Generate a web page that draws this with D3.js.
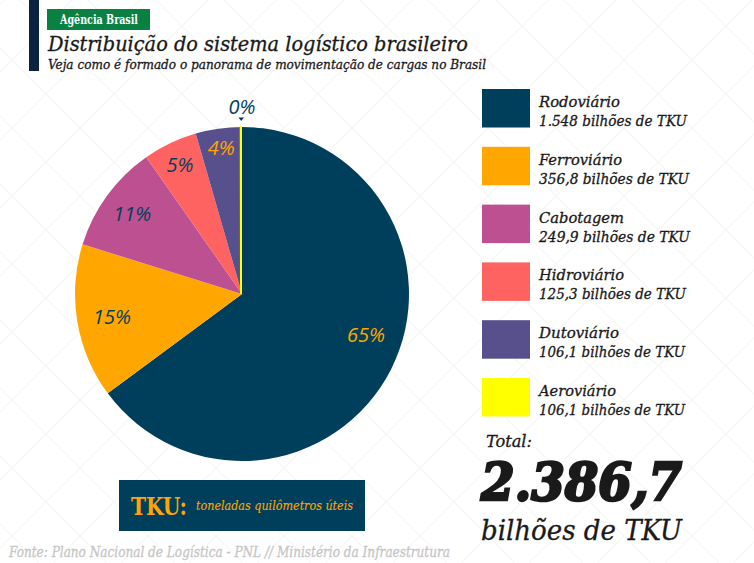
<!DOCTYPE html>
<html>
<head>
<meta charset="utf-8">
<script src="https://d3js.org/d3.v7.min.js"></script>
<style>
  html, body { margin: 0; padding: 0; background: #fff; }
  svg { display: block; }
  text { font-family: "DejaVu Serif", serif; font-stretch: condensed; }
  .it { font-style: italic; }
  .pct { font-family: "Open Sans", sans-serif; font-stretch: normal; }
</style>
</head>
<body>
<svg id="chart" width="754" height="563"></svg>
<script>
// data
const categories = ["Rodoviário", "Ferroviário", "Cabotagem", "Hidroviário", "Dutoviário", "Aeroviário"];
const sliceValues = [1548, 356.8, 249.9, 125.3, 106.1, 0.6]; // aeroviário: what is left of the 2.386,7 total
const percentLabels = ["65%", "15%", "11%", "5%", "4%", "0%"];
const valueLabels = ["1.548 bilhões de TKU", "356,8 bilhões de TKU", "249,9 bilhões de TKU",
  "125,3 bilhões de TKU", "106,1 bilhões de TKU", "106,1 bilhões de TKU"];
const sliceColors = ["#003f5c", "#ffa600", "#bc5090", "#ff6361", "#58508d", "#ffff00"];

const width = 754, height = 563;
const svg = d3.select("#chart");

// faint lattice in the background
const defs = svg.append("defs");
const pat = defs.append("pattern").attr("id", "lattice")
  .attr("width", 68).attr("height", 68).attr("patternUnits", "userSpaceOnUse")
  .attr("x", 12).attr("y", -8);
pat.append("rect").attr("width", 68).attr("height", 68).attr("fill", "#fff");
pat.append("path").attr("d", "M0,0L68,68M68,0L0,68").attr("stroke", "#f8f8f8").attr("stroke-width", 1.5);
svg.append("rect").attr("width", width).attr("height", height).attr("fill", "url(#lattice)");

// helper: text squeezed to the width seen in the reference
function label(x, y, str, size, w, opts = {}) {
  const fill = opts.fill || "#1a1a1a";
  return svg.append("text")
    .attr("x", x).attr("y", y)
    .attr("class", opts.italic === false ? null : "it")
    .attr("font-size", size)
    .attr("font-weight", opts.weight || "normal")
    .attr("fill", fill)
    .attr("stroke", fill).attr("stroke-width", opts.bold || 0.3)
    .attr("textLength", w).attr("lengthAdjust", "spacingAndGlyphs")
    .text(str);
}

// header
svg.append("rect").attr("x", 29).attr("y", 0).attr("width", 10).attr("height", 71).attr("fill", "#0b2240");
svg.append("rect").attr("x", 47).attr("y", 9).attr("width", 103).attr("height", 21).attr("fill", "#0a8043");
label(60, 24, "Agência Brasil", 12, 78, { italic: false, weight: "bold", fill: "#fff", bold: 0.01 });
label(48, 51, "Distribuição do sistema logístico brasileiro", 20.5, 420);
label(48, 68.5, "Veja como é formado o panorama de movimentação de cargas no Brasil", 13, 438);

// pie
const cx = 242, cy = 294, radius = 167;
const pie = d3.pie().value(d => d).sort(null);
const arc = d3.arc().innerRadius(0).outerRadius(radius);
const arcs = pie(sliceValues);
const color = d3.scaleOrdinal().domain(categories).range(sliceColors);

const pieG = svg.append("g").attr("transform", `translate(${cx},${cy})`);
pieG.selectAll("path")
  .data(arcs)
  .enter().append("path")
  .attr("d", arc)
  .attr("fill", (d, i) => color(categories[i]));
// the aeroviário slice is too thin to see on its own, the reference draws it as a line
pieG.selectAll("path").filter((d, i) => i === 5)
  .attr("stroke", sliceColors[5]).attr("stroke-width", 2)
  .attr("transform", "translate(-1,0)");

// percent labels: distance from centre per slice, plus a nudge for the big one
const labelRadius = [131, 132, 136, 144, 148, 188];
const labelNudge = [[7, -18], [0, 0], [0, 0], [0, 0], [0, 0], [0, 0]];
const labelColors = ["#ffa600", "#003f5c", "#003f5c", "#003f5c", "#ffa600", "#003f5c"];
pieG.selectAll("text.pct")
  .data(arcs)
  .enter().append("text")
  .attr("class", "pct it")
  .attr("text-anchor", "middle")
  .attr("dominant-baseline", "central")
  .attr("font-size", 20)
  .attr("fill", (d, i) => labelColors[i])
  .attr("x", (d, i) => labelRadius[i] * Math.sin((d.startAngle + d.endAngle) / 2) + labelNudge[i][0])
  .attr("y", (d, i) => -labelRadius[i] * Math.cos((d.startAngle + d.endAngle) / 2) + labelNudge[i][1])
  .text((d, i) => percentLabels[i]);
// little pointer under 0%
svg.append("path").attr("d", "M238.5,117.5L244,117.5L241.2,121Z").attr("fill", "#003f5c");

// legend
const legendY = d3.scalePoint().domain(categories).range([89, 378]);
const row = svg.selectAll("g.row")
  .data(categories)
  .enter().append("g").attr("class", "row")
  .attr("transform", d => `translate(0,${legendY(d)})`);
row.append("rect")
  .attr("x", 482).attr("width", 48).attr("height", 38.5)
  .attr("fill", d => color(d));
const nameW = [81, 83, 85, 85, 80, 77];
const valueW = [148, 150, 151, 147, 146, 146];
row.append("text").attr("class", "it")
  .attr("x", 539).attr("y", 18).attr("font-size", 15.5).attr("fill", "#1a1a1a")
  .attr("stroke", "#1a1a1a").attr("stroke-width", 0.3)
  .attr("textLength", (d, i) => nameW[i]).attr("lengthAdjust", "spacingAndGlyphs")
  .text(d => d);
row.append("text").attr("class", "it")
  .attr("x", 539).attr("y", 37).attr("font-size", 15.5).attr("fill", "#1a1a1a")
  .attr("stroke", "#1a1a1a").attr("stroke-width", 0.3)
  .attr("textLength", (d, i) => valueW[i]).attr("lengthAdjust", "spacingAndGlyphs")
  .text((d, i) => valueLabels[i]);

// total
label(486, 447, "Total:", 17.5, 46);
label(481, 500, "2.386,7", 52, 201, { weight: "bold", bold: 2.5 });
label(481, 540, "bilhões de TKU", 28, 201);

// TKU box
svg.append("rect").attr("x", 119).attr("y", 480).attr("width", 246).attr("height", 51).attr("fill", "#003f5c");
label(131, 515, "TKU:", 25, 56, { italic: false, weight: "bold", fill: "#ffa600", bold: 0.01 });
label(196, 510, "toneladas quilômetros úteis", 13, 157, { fill: "#ffa600", bold: 0.1 });

// source
label(9, 557, "Fonte: Plano Nacional de Logística - PNL // Ministério da Infraestrutura", 15, 441, { fill: "#c6c6c6" });
</script>
</body>
</html>
